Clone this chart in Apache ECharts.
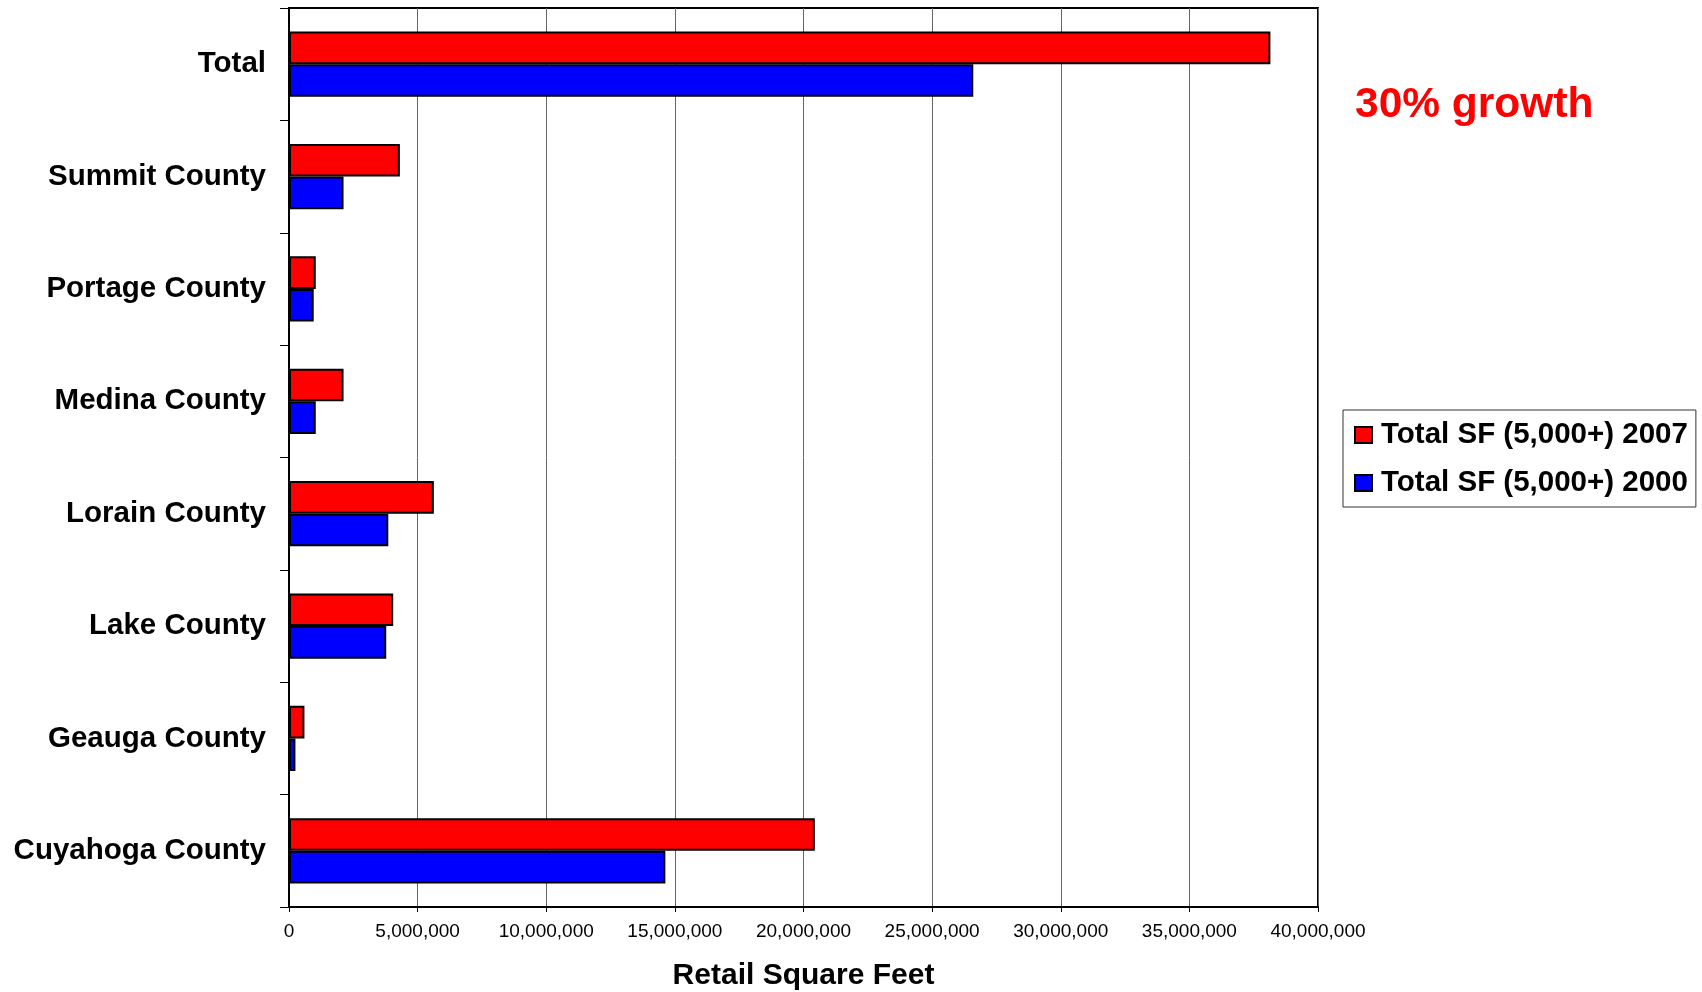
<!DOCTYPE html>
<html>
<head>
<meta charset="utf-8">
<title>Retail Square Feet</title>
<script src="https://cdn.jsdelivr.net/npm/echarts@6/dist/echarts.min.js"></script>
<style>
  html, body { margin: 0; padding: 0; background: #fff; }
  #chart { width: 1702px; height: 992px; }
</style>
</head>
<body>
<div id="chart"></div>
<script>
// categories, top to bottom
var counties = ['Total', 'Summit County', 'Portage County', 'Medina County',
  'Lorain County', 'Lake County', 'Geauga County', 'Cuyahoga County'];
// retail square feet, stores of 5,000 sf and up
var sf2007 = [38150000, 4310000, 1040000, 2120000, 5630000, 4050000, 600000, 20440000];
var sf2000 = [26600000, 2120000, 960000, 1040000, 3860000, 3780000, 250000, 14630000];
var seriesNames = ['Total SF (5,000+) 2007', 'Total SF (5,000+) 2000'];
var xTicks = { min: 0, max: 40000000, step: 5000000 };
var note = '30% growth';

var FONT = '"Liberation Sans", Arial, sans-serif';

function fmtNum(v) {
  return String(v).replace(/\B(?=(\d{3})+(?!\d))/g, ',');
}

var chart = echarts.init(document.getElementById('chart'));

var option = {
  backgroundColor: '#fff',
  animation: false,
  textStyle: { fontFamily: FONT },
  grid: {
    left: 289, right: 384, top: 8, bottom: 85,
    show: true, borderColor: '#000', borderWidth: 2,
    containLabel: false,
    outerBoundsMode: 'none'
  },
  legend: {
    orient: 'vertical',
    left: 1343, top: 410,
    padding: [10, 8, 9, 11],
    itemWidth: 17, itemHeight: 16,
    itemGap: 18,
    borderColor: '#333', borderWidth: 1,
    icon: 'rect',
    itemStyle: { borderColor: '#000', borderWidth: 2 },
    textStyle: { fontFamily: FONT, fontSize: 29.5, fontWeight: 'bold', color: '#000', padding: [0, 0, 0, 4] },
    data: seriesNames
  },
  xAxis: {
    type: 'value',
    min: xTicks.min, max: xTicks.max, interval: xTicks.step,
    name: 'Retail Square Feet',
    nameLocation: 'middle',
    nameGap: 54,
    nameTextStyle: { fontFamily: FONT, fontSize: 30, fontWeight: 'bold', color: '#000' },
    axisLine: { show: true, lineStyle: { color: '#000', width: 2 } },
    axisTick: { show: true, length: 5, lineStyle: { color: '#000', width: 1 } },
    axisLabel: {
      margin: 15, fontSize: 19, color: '#000', fontFamily: FONT,
      formatter: function (v) { return fmtNum(v); }
    },
    splitLine: { show: true, lineStyle: { color: '#666', width: 1 } }
  },
  yAxis: {
    type: 'category',
    inverse: true,
    data: counties,
    axisLine: { show: true, lineStyle: { color: '#000', width: 2 } },
    axisTick: { show: true, length: 9, lineStyle: { color: '#000', width: 1 } },
    axisLabel: {
      margin: 23, fontSize: 29.5, fontWeight: 'bold', color: '#000', fontFamily: FONT,
      padding: [6, 0, 0, 0]
    },
    splitLine: { show: false }
  },
  series: [
    {
      name: seriesNames[0],
      type: 'bar',
      data: sf2007,
      barGap: '0%',
      barCategoryGap: '42%',
      itemStyle: { color: '#ff0000', borderColor: '#000', borderWidth: 2 }
    },
    {
      name: seriesNames[1],
      type: 'bar',
      data: sf2000,
      barGap: '0%',
      barCategoryGap: '42%',
      itemStyle: { color: '#0000ff', borderColor: '#000', borderWidth: 2 }
    }
  ],
  graphic: [{
    type: 'text',
    left: 1355, top: 84,
    style: {
      text: note,
      fill: '#ff0000',
      font: 'bold 42.5px ' + FONT
    }
  }]
};

chart.setOption(option);
</script>
</body>
</html>
